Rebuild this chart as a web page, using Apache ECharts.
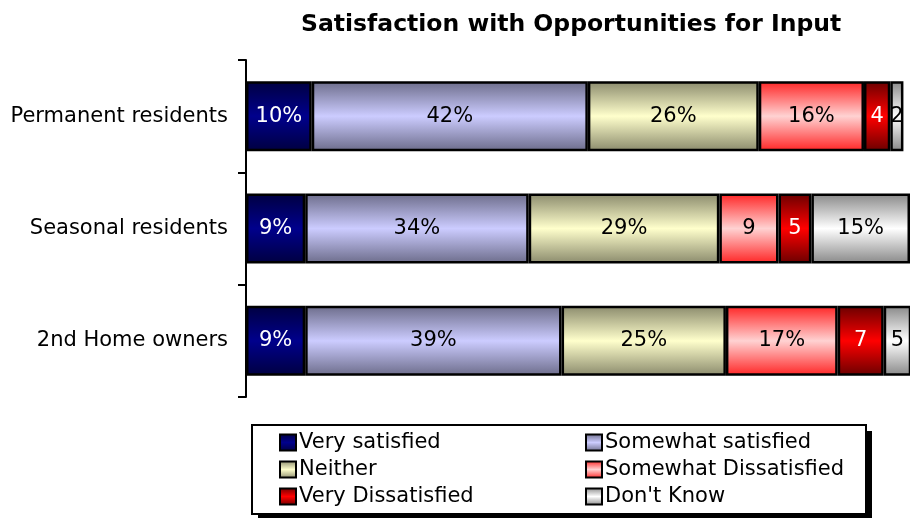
<!DOCTYPE html>
<html>
<head>
<meta charset="utf-8">
<script src="https://cdn.jsdelivr.net/npm/echarts@6/dist/echarts.min.js"></script>
<style>
html,body{margin:0;padding:0;background:#fff;}
#main{width:910px;height:518px;}
</style>
</head>
<body>
<div id="main"></div>
<script>
const categories = ['Permanent residents', 'Seasonal residents', '2nd Home owners'];
const seriesNames = ['Very satisfied', 'Somewhat satisfied', 'Neither', 'Somewhat Dissatisfied', 'Very Dissatisfied', "Don't Know"];
const verySatisfied = [10, 9, 9];
const somewhatSatisfied = [42, 34, 39];
const neither = [26, 29, 25];
const somewhatDissatisfied = [16, 9, 17];
const veryDissatisfied = [4, 5, 7];
const dontKnow = [2, 15, 5];
const labelsVerySatisfied = ['10%', '9%', '9%'];
const labelsSomewhatSatisfied = ['42%', '34%', '39%'];
const labelsNeither = ['26%', '29%', '25%'];
const labelsSomewhatDissatisfied = ['16%', '9', '17%'];
const labelsVeryDissatisfied = ['4', '5', '7'];
const labelsDontKnow = ['2', '15%', '5'];

const values = [verySatisfied, somewhatSatisfied, neither, somewhatDissatisfied, veryDissatisfied, dontKnow];
const labels = [labelsVerySatisfied, labelsSomewhatSatisfied, labelsNeither, labelsSomewhatDissatisfied, labelsVeryDissatisfied, labelsDontKnow];
const edgeColors = ['#000040', '#6c6c8a', '#8a8a6c', '#ff2424', '#6a0000', '#888888'];
const centerColors = ['#00008c', '#ccccff', '#ffffcc', '#ffd2d2', '#ff0000', '#ffffff'];
const labelColors = ['#ffffff', '#000000', '#000000', '#000000', '#ffffff', '#000000'];

const FONT = 'DejaVu Sans';
function grad(i) {
  return new echarts.graphic.LinearGradient(0, 0, 0, 1, [
    {offset: 0, color: edgeColors[i]},
    {offset: 0.5, color: centerColors[i]},
    {offset: 1, color: edgeColors[i]}
  ]);
}

const series = seriesNames.map((name, i) => ({
  name: name,
  type: 'bar',
  stack: 'total',
  barWidth: 70,
  data: values[i],
  itemStyle: {color: grad(i), borderColor: '#000', borderWidth: 2.5},
  label: {
    show: true,
    position: 'inside',
    fontFamily: FONT,
    fontSize: 21,
    color: labelColors[i],
    formatter: p => labels[i][p.dataIndex]
  },
  emphasis: {disabled: true}
}));

const legendText = {fontFamily: FONT, fontSize: 21, color: '#000', lineHeight: 27, padding: [0, 0, 0, -2]};

const chart = echarts.init(document.getElementById('main'));
chart.setOption({
  animation: false,
  backgroundColor: '#fff',
  title: {
    text: 'Satisfaction with Opportunities for Input',
    left: 296, top: 8,
    textStyle: {fontFamily: FONT, fontWeight: 'bold', fontSize: 23.5, color: '#000'}
  },
  graphic: [{
    type: 'rect',
    shape: {x: 258, y: 431, width: 614, height: 89},
    style: {fill: '#000'},
    z: 0, silent: true
  }, {
    type: 'rect',
    shape: {x: 252, y: 425, width: 614, height: 89},
    style: {fill: '#fff', stroke: '#000', lineWidth: 2},
    z: 1, silent: true
  }],
  legend: [{
    data: [seriesNames[0], seriesNames[2], seriesNames[4]],
    orient: 'vertical', left: 279, top: 429, padding: 0, height: 89,
    icon: 'rect',
    itemWidth: 16, itemHeight: 16, itemGap: 0,
    textStyle: legendText,
    selectedMode: false, z: 10
  }, {
    data: [seriesNames[1], seriesNames[3], seriesNames[5]],
    orient: 'vertical', left: 585, top: 429, padding: 0, height: 89,
    icon: 'rect',
    itemWidth: 16, itemHeight: 16, itemGap: 0,
    textStyle: legendText,
    selectedMode: false, z: 10
  }],
  grid: {left: 246, right: 0, top: 60, bottom: 121, containLabel: false},
  xAxis: {type: 'value', min: 0, max: 101, show: false},
  yAxis: {
    type: 'category', data: categories, inverse: true,
    axisLine: {show: true, lineStyle: {color: '#000', width: 2}},
    axisTick: {show: true, length: 8, lineStyle: {color: '#000', width: 2}},
    axisLabel: {fontFamily: FONT, fontSize: 21, color: '#000', margin: 18}
  },
  series: series
});
</script>
</body>
</html>
